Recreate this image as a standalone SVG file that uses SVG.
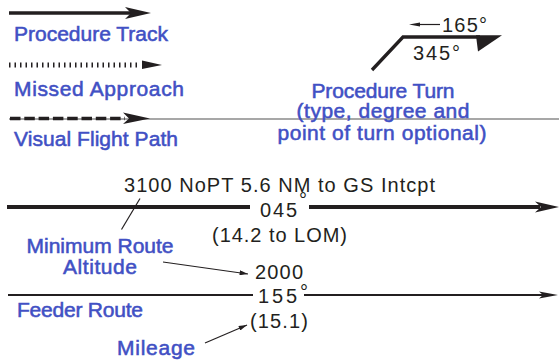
<svg xmlns="http://www.w3.org/2000/svg" width="559" height="362" viewBox="0 0 559 362">
<style>
.lbl{font-family:"Liberation Sans",Arial,sans-serif;font-size:21px;fill:#4150c4;stroke:#4150c4;stroke-width:0.55px}
.txt{font-family:"Liberation Sans",Arial,sans-serif;font-size:20px;fill:#231f20}
.ln{stroke:#231f20;fill:none}
.ah{fill:#231f20;stroke:none}
</style>
<defs>
<marker id="arr" viewBox="0 0 10 6" refX="10" refY="3" markerUnits="userSpaceOnUse" markerWidth="11" markerHeight="5" orient="auto">
<path d="M0,0 L10,3 L0,6 Z" fill="#231f20"/>
</marker>
</defs>
<rect width="559" height="362" fill="#ffffff"/>
<g id="connectors">
<line x1="9" y1="119" x2="559" y2="119" stroke="#8a8a8a" stroke-width="1.5"/>
<line class="ln" x1="9" y1="13" x2="132" y2="13" stroke-width="3.3"/>
<path class="ah" d="M151,13 L125,7 L131,13 L125,19 Z"/>
<line class="ln" x1="9" y1="65" x2="140" y2="65" stroke-width="5" stroke-dasharray="1.5 4"/>
<path class="ah" d="M162,65 L142,60.5 L142,69 Z"/>
<line class="ln" x1="10" y1="118.5" x2="125" y2="118.5" stroke-width="3.5" stroke-dasharray="10.5 3.8"/>
<path class="ah" d="M150,118.5 L123,112.5 L129,118.5 L123,124 Z"/>
<path class="ln" d="M372,70 L403,37 L480,37" stroke-width="3.3"/>
<path class="ah" d="M476,35.3 L502,35.3 L478,51.5 Z"/>
<line class="ln" x1="418" y1="24.5" x2="440" y2="24.5" stroke-width="1.2"/>
<path class="ah" d="M409,24.5 L420,22.5 L420,26.5 Z"/>
<line class="ln" x1="7" y1="207" x2="250" y2="207" stroke-width="4"/>
<line class="ln" x1="309" y1="207" x2="540" y2="207" stroke-width="4"/>
<path class="ah" d="M559,207 L535,201.5 L541,207 L535,212.5 Z"/>
<line class="ln" x1="8" y1="295" x2="253" y2="295" stroke-width="2"/>
<line class="ln" x1="304" y1="295" x2="545" y2="295" stroke-width="2"/>
<path class="ah" d="M558,295 L539,291.5 L543,295 L539,298.5 Z"/>
<line class="ln" x1="121.5" y1="229.5" x2="140" y2="198.5" stroke-width="1.2"/>
<line class="ln" x1="163" y1="262" x2="248" y2="274" stroke-width="1.2" marker-end="url(#arr)"/>
<line class="ln" x1="205" y1="343" x2="247" y2="325" stroke-width="1.2" marker-end="url(#arr)"/>
</g>
<g id="legend-procedure-track"><text class="lbl" x="14" y="41" textLength="154">Procedure Track</text></g>
<g id="legend-missed-approach"><text class="lbl" x="14" y="96" textLength="170">Missed Approach</text></g>
<g id="legend-visual-flight-path"><text class="lbl" x="14" y="146" textLength="164">Visual Flight Path</text></g>
<g id="procedure-turn">
<text class="txt" x="442" y="32" textLength="45">165°</text>
<text class="txt" x="413" y="60" font-size="19" textLength="47">345°</text>
<text class="lbl" x="383" y="97.5" text-anchor="middle" textLength="143">Procedure Turn</text>
<text class="lbl" x="383" y="118" text-anchor="middle" textLength="173">(type, degree and</text>
<text class="lbl" x="382" y="140" text-anchor="middle" textLength="209">point of turn optional)</text>
</g>
<g id="route-045">
<text class="txt" x="124" y="192" font-size="21" textLength="311">3100 NoPT 5.6 NM to GS Intcpt</text>
<text class="txt" x="260" y="217" font-size="19" textLength="47">045<tspan dy="-10">°</tspan></text>
<text class="txt" x="212" y="242" font-size="19" textLength="135">(14.2 to LOM)</text>
</g>
<g id="label-minimum-route-altitude">
<text class="lbl" x="100" y="253" text-anchor="middle" textLength="147">Minimum Route</text>
<text class="lbl" x="100" y="274" text-anchor="middle" textLength="74">Altitude</text>
</g>
<g id="route-155">
<text class="txt" x="255" y="279" textLength="48">2000</text>
<text class="txt" x="258" y="303" textLength="50">155<tspan dy="-4">°</tspan></text>
<text class="txt" x="250" y="328" textLength="58">(15.1)</text>
</g>
<g id="label-feeder-route"><text class="lbl" x="17" y="317" textLength="126">Feeder Route</text></g>
<g id="label-mileage"><text class="lbl" x="117" y="355" textLength="78">Mileage</text></g>
</svg>
